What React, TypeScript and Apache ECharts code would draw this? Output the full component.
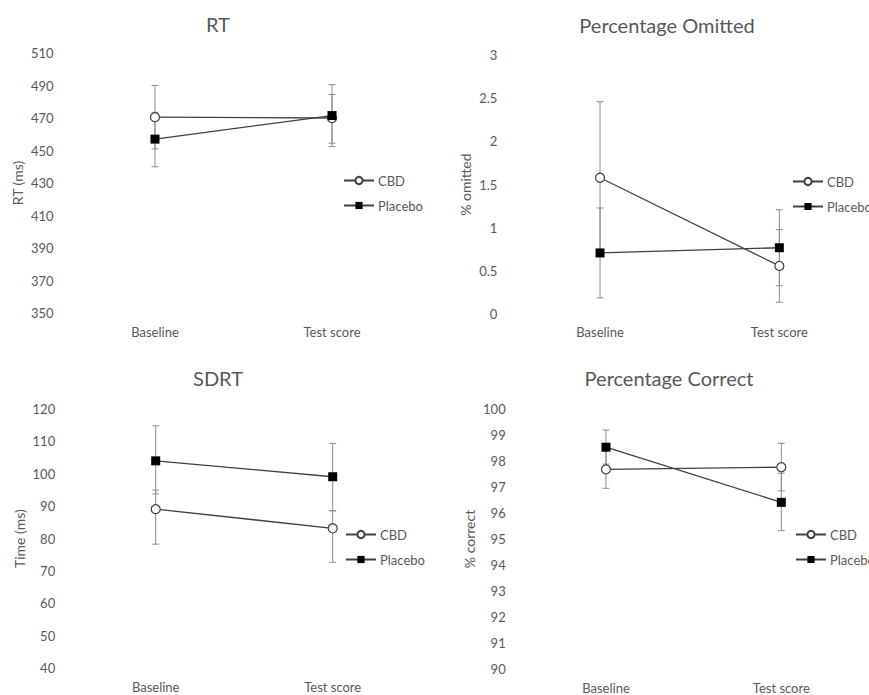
import React, { useEffect, useRef } from "react";
import * as echarts from "echarts";

const categories = ["Baseline", "Test score"];

// RT
const rtCbd = [470.5, 470];
const rtPlacebo = [457, 471.5];
const rtCbdLow = [451, 454.5];
const rtCbdHigh = [490, 484.5];
const rtPlaceboLow = [440, 452.5];
const rtPlaceboHigh = [473.5, 490.5];

// Percentage Omitted
const omCbd = [1.58, 0.56];
const omPlacebo = [0.71, 0.77];
const omCbdLow = [0.7, 0.14];
const omCbdHigh = [2.46, 0.98];
const omPlaceboLow = [0.19, 0.33];
const omPlaceboHigh = [1.23, 1.21];

// SDRT
const sdCbd = [89.1, 83.2];
const sdPlacebo = [104, 99.1];
const sdCbdLow = [78.3, 72.7];
const sdCbdHigh = [95, 88.6];
const sdPlaceboLow = [93.8, 88.6];
const sdPlaceboHigh = [114.8, 109.4];

// Percentage Correct
const pcCbd = [97.68, 97.76];
const pcPlacebo = [98.53, 96.41];
const pcCbdLow = [96.95, 96.85];
const pcCbdHigh = [98.41, 98.68];
const pcPlaceboLow = [97.88, 95.32];
const pcPlaceboHigh = [99.19, 97.53];

const FONT = "Lato";
const TXT = "#595959";
const LINE = "#404040";
const ERR = "#8c8c8c";

const panels = [
  {
    title: "RT", titleX: 213, titleY: 9, yName: "RT (ms)", nameGap: 42,
    grid: { left: 66.5, top: 53, width: 354, height: 260 },
    min: 350, max: 510, interval: 20, labelMargin: 13, xMargin: 12,
    cbd: rtCbd, placebo: rtPlacebo,
    cbdLow: rtCbdLow, cbdHigh: rtCbdHigh, plLow: rtPlaceboLow, plHigh: rtPlaceboHigh,
    legend: { left: 343, top: 174 },
  },
  {
    title: "Percentage Omitted", titleX: 662, titleY: 10, yName: "% omitted", nameGap: 38,
    grid: { left: 510.4, top: 55, width: 358.6, height: 259.3 },
    min: 0, max: 3, interval: 0.5, labelMargin: 13, xMargin: 11.5,
    cbd: omCbd, placebo: omPlacebo,
    cbdLow: omCbdLow, cbdHigh: omCbdHigh, plLow: omPlaceboLow, plHigh: omPlaceboHigh,
    legend: { left: 792, top: 175 },
  },
  {
    title: "SDRT", titleX: 213, titleY: 363, yName: "Time (ms)", nameGap: 41,
    grid: { left: 67.2, top: 409, width: 354, height: 259.3 },
    min: 40, max: 120, interval: 10, labelMargin: 12, xMargin: 12.5,
    cbd: sdCbd, placebo: sdPlacebo,
    cbdLow: sdCbdLow, cbdHigh: sdCbdHigh, plLow: sdPlaceboLow, plHigh: sdPlaceboHigh,
    legend: { left: 345, top: 528 },
  },
  {
    title: "Percentage Correct", titleX: 664, titleY: 363, yName: "% correct", nameGap: 42,
    grid: { left: 518.3, top: 409, width: 354.6, height: 260 },
    min: 90, max: 100, interval: 1, labelMargin: 12.6, xMargin: 12,
    cbd: pcCbd, placebo: pcPlacebo,
    cbdLow: pcCbdLow, cbdHigh: pcCbdHigh, plLow: pcPlaceboLow, plHigh: pcPlaceboHigh,
    legend: { left: 795, top: 528 },
  },
];

function errRender(params: any, api: any) {
  const lo = api.coord([api.value(0), api.value(1)]);
  const hi = api.coord([api.value(0), api.value(2)]);
  const w = 3.5;
  const style = { stroke: ERR, lineWidth: 1 };
  return {
    type: "group",
    children: [
      { type: "line", shape: { x1: lo[0], y1: lo[1], x2: hi[0], y2: hi[1] }, style },
      { type: "line", shape: { x1: lo[0] - w, y1: lo[1], x2: lo[0] + w, y2: lo[1] }, style },
      { type: "line", shape: { x1: hi[0] - w, y1: hi[1], x2: hi[0] + w, y2: hi[1] }, style },
    ],
  };
}

export default function App() {
  const ref = useRef<HTMLDivElement>(null);
  useEffect(() => {
    if (!ref.current) return;
    const chart = echarts.init(ref.current, undefined, { renderer: "svg" });
    const grid: any[] = [];
    const xAxis: any[] = [];
    const yAxis: any[] = [];
    const series: any[] = [];
    const title: any[] = [];
    const legend: any[] = [];
    panels.forEach((p, i) => {
      grid.push({ ...p.grid, containLabel: false });
      title.push({
        text: p.title, left: p.titleX, top: p.titleY, textAlign: "center",
        textStyle: { fontFamily: FONT, fontSize: 20, fontWeight: "normal", color: TXT },
      });
      xAxis.push({
        type: "category", gridIndex: i, data: categories, boundaryGap: true,
        axisLine: { show: false }, axisTick: { show: false }, splitLine: { show: false },
        axisLabel: { margin: p.xMargin, fontFamily: FONT, fontSize: 13, color: TXT },
      });
      yAxis.push({
        type: "value", gridIndex: i, min: p.min, max: p.max, interval: p.interval,
        name: p.yName, nameLocation: "middle", nameGap: p.nameGap, nameRotate: 90,
        nameTextStyle: { fontFamily: FONT, fontSize: 14, color: TXT },
        axisLine: { show: false }, axisTick: { show: false }, splitLine: { show: false },
        axisLabel: { margin: p.labelMargin, fontFamily: FONT, fontSize: 13, color: TXT },
      });
      const mkErr = (low: number[], high: number[], name: string) => ({
        type: "custom", name, xAxisIndex: i, yAxisIndex: i, z: 1,
        renderItem: errRender,
        data: low.map((l, k) => [k, l, high[k]]),
        silent: true,
      });
      series.push(mkErr(p.cbdLow, p.cbdHigh, "CBD err"));
      series.push(mkErr(p.plLow, p.plHigh, "Placebo err"));
      series.push({
        type: "line", name: "CBD", xAxisIndex: i, yAxisIndex: i, z: 3,
        data: p.cbd, symbol: "circle", symbolSize: 9,
        lineStyle: { color: LINE, width: 1.3 },
        itemStyle: { color: "#ffffff", borderColor: LINE, borderWidth: 1.2 },
      });
      series.push({
        type: "line", name: "Placebo", xAxisIndex: i, yAxisIndex: i, z: 3,
        data: p.placebo, symbol: "rect", symbolSize: 9,
        lineStyle: { color: LINE, width: 1.3 },
        itemStyle: { color: "#000000", borderColor: "#000000", borderWidth: 0 },
      });
      legend.push({
        orient: "vertical", left: p.legend.left, top: p.legend.top,
        itemWidth: 30, itemHeight: 9, itemGap: 12, selectedMode: false,
        data: ["CBD", "Placebo"],
        textStyle: { fontFamily: FONT, fontSize: 13, color: TXT, padding: [0, 0, 0, -1] },
        padding: 0,
      });
    });
    chart.setOption({
      animation: false,
      backgroundColor: "#ffffff",
      title, grid, xAxis, yAxis, series, legend,
    });
    return () => chart.dispose();
  }, []);
  return (
    <div
      ref={ref}
      style={{ position: "fixed", left: 0, top: 0, width: 869, height: 695, background: "#fff" }}
    />
  );
}
